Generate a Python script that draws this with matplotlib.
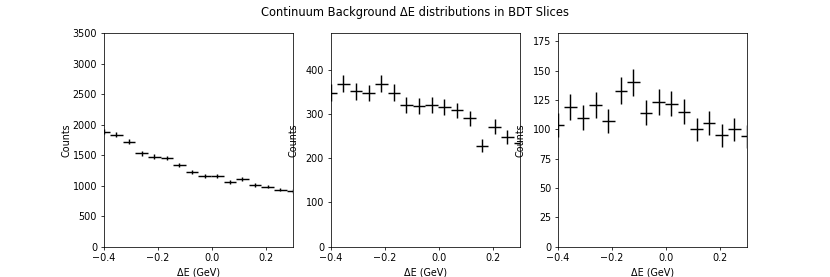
import numpy as np
import matplotlib
matplotlib.use("Agg")
import matplotlib.pyplot as plt

# bin centres in Delta E (GeV)
delta_e = np.linspace(-0.4, 0.3, 16)
bin_half = (delta_e[1] - delta_e[0]) / 2

# counts per BDT slice
counts_slice1 = [1887, 1838, 1718, 1532, 1477, 1455, 1335, 1218, 1160, 1160,
                 1062, 1105, 1007, 984, 935, 912]
counts_slice2 = [349, 369, 352, 348, 369, 349, 322, 319, 322, 316,
                 309, 291, 229, 272, 248, 236]
counts_slice3 = [104, 119, 110, 121, 107, 133, 140, 114, 123, 122,
                 115, 100, 105, 95, 100, 94]

slices = [counts_slice1, counts_slice2, counts_slice3]
y_tops = [3500, 484, 182]

dpi = 830 / 12
fig, axes = plt.subplots(1, 3, figsize=(12, 277 / dpi), dpi=dpi)
fig.suptitle("Continuum Background ΔE distributions in BDT Slices")

for ax, counts, top in zip(axes, slices, y_tops):
    counts = np.array(counts)
    ax.errorbar(delta_e, counts, xerr=bin_half, yerr=np.sqrt(counts),
                fmt="none", ecolor="k")
    ax.set_xlim(-0.4, 0.3)
    ax.set_ylim(0, top)
    ax.set_xlabel("ΔE (GeV)")
    ax.set_ylabel("Counts")
    ax.yaxis.set_label_coords(-0.17, 0.5)

fig.savefig("out.png", dpi=dpi)
